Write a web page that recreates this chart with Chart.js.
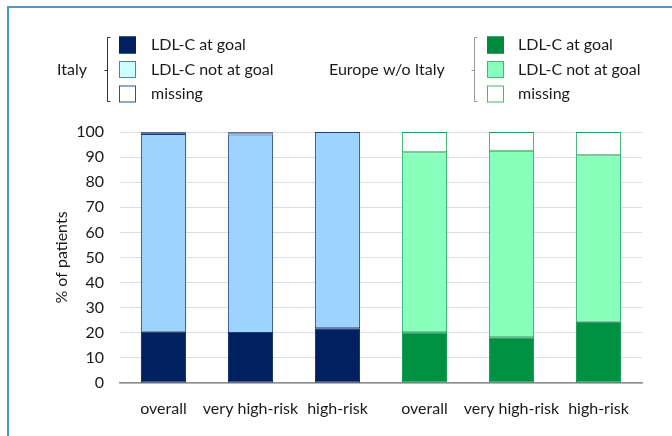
<!DOCTYPE html>
<html>
<head>
<meta charset="utf-8">
<script src="https://cdn.jsdelivr.net/npm/chart.js@4"></script>
<style>
  html, body { margin: 0; padding: 0; background: #fff; }
  #wrap { position: relative; width: 672px; height: 436px; }
</style>
</head>
<body>
<div id="wrap"><canvas id="chart" width="672" height="436"></canvas></div>
<script>
// ---------- data (% of patients) ----------
const categories = ['overall', 'very high-risk', 'high-risk', 'overall', 'very high-risk', 'high-risk'];

const italyAtGoal     = [20.4, 19.9, 21.8];
const italyNotAtGoal  = [78.8, 79.1, 78.2];
const italyMissing    = [0.8, 1.0, 0];

const europeAtGoal    = [20.2, 18.2, 24.4];
const europeNotAtGoal = [71.7, 74.3, 66.3];
const europeMissing   = [8.1, 7.5, 9.3];

const yTicks = [0, 10, 20, 30, 40, 50, 60, 70, 80, 90, 100];
const seriesNames = ['LDL-C at goal', 'LDL-C not at goal', 'missing'];

const FONT = 'Lato, "Open Sans", sans-serif';
const NONE3 = [null, null, null];

// Italy fills the first three categories, Europe the last three
const left  = (arr) => arr.concat(NONE3);
const right = (arr) => NONE3.concat(arr);

function bar(label, data, bg, border) {
  return {
    label: label, data: data, backgroundColor: bg, borderColor: border,
    borderWidth: 1, borderSkipped: false, stack: 'all',
    barPercentage: 0.52, categoryPercentage: 1,
  };
}

const datasets = [
  bar(seriesNames[0], left(italyAtGoal),     '#002060', '#002060'),
  bar(seriesNames[1], left(italyNotAtGoal),  '#9DD3FF', '#1F3D78'),
  bar(seriesNames[2], left(italyMissing),    '#7A8AAE', '#5A6E98'),
  bar(seriesNames[0], right(europeAtGoal),    '#009242', '#009242'),
  bar(seriesNames[1], right(europeNotAtGoal), '#88FFBA', '#1AA35A'),
  bar(seriesNames[2], right(europeMissing),   '#FFFFFF', '#1AA35A'),
];

// ---------- legend groups (bracketed, drawn on canvas) ----------
const legendGroups = [
  { title: 'Italy', titleX: 57, bracketX: 107, boxX: 119, textX: 151, bracketColor: '#333',
    swatches: [['#002060', '#002060'], ['#CCFFFF', '#4A7FC0'], ['#FFFFFF', '#2F4F8F']] },
  { title: 'Europe w/o Italy', titleX: 329, bracketX: 474, boxX: 487, textX: 518, bracketColor: '#999',
    swatches: [['#00883C', '#00883C'], ['#88FFBA', '#3DBB74'], ['#FFFFFF', '#3DBB74']] },
];
const legendRows = [45, 69.5, 94];

const decorPlugin = {
  id: 'decor',
  afterDraw(chart) {
    const ctx = chart.ctx;
    ctx.save();
    // outer frame (top and left edges)
    ctx.strokeStyle = '#4F97C8';
    ctx.lineWidth = 2;
    ctx.beginPath();
    ctx.moveTo(8, 436); ctx.lineTo(8, 7); ctx.lineTo(672, 7);
    ctx.stroke();

    ctx.font = '16px ' + FONT;
    ctx.textBaseline = 'middle';
    legendGroups.forEach((g) => {
      ctx.fillStyle = '#1a1a1a';
      ctx.textAlign = 'left';
      ctx.fillText(g.title, g.titleX, 70);

      // bracket
      ctx.strokeStyle = g.bracketColor;
      ctx.lineWidth = 1;
      const bx = g.bracketX + 0.5;
      ctx.beginPath();
      ctx.moveTo(bx + 3, 37.5); ctx.lineTo(bx, 37.5); ctx.lineTo(bx, 101.5); ctx.lineTo(bx + 3, 101.5);
      ctx.moveTo(bx - 3, 70.5); ctx.lineTo(bx, 70.5);
      ctx.stroke();

      g.swatches.forEach((s, i) => {
        const cy = legendRows[i];
        ctx.fillStyle = s[0];
        ctx.fillRect(g.boxX, cy - 8.5, 17, 17);
        ctx.strokeStyle = s[1];
        ctx.lineWidth = 1;
        ctx.strokeRect(g.boxX + 0.5, cy - 8, 16, 16);
        ctx.fillStyle = '#1a1a1a';
        ctx.fillText(seriesNames[i], g.textX, cy);
      });
    });
    ctx.restore();
  },
};

new Chart(document.getElementById('chart'), {
  type: 'bar',
  data: { labels: categories, datasets: datasets },
  plugins: [decorPlugin],
  options: {
    responsive: false,
    animation: false,
    events: [],
    layout: { padding: { top: 132, left: 0, right: 30, bottom: 0 } },
    plugins: { legend: { display: false }, tooltip: { enabled: false } },
    scales: {
      x: {
        stacked: true,
        grid: { display: false, drawTicks: false },
        border: { display: true, color: '#8C8C8C', width: 1.5 },
        ticks: { color: '#1a1a1a', font: { family: FONT, size: 16 }, padding: 16, maxRotation: 0, autoSkip: false },
        afterFit: (s) => { s.height = 53; },
      },
      y: {
        stacked: true,
        min: 0, max: 100,
        afterBuildTicks: (s) => { s.ticks = yTicks.map((v) => ({ value: v })); },
        grid: { color: '#DADDE4', lineWidth: 1, drawTicks: false },
        border: { display: false },
        ticks: { color: '#1a1a1a', font: { family: FONT, size: 16 }, padding: 16 },
        title: { display: true, text: '% of patients', color: '#1a1a1a',
                 font: { family: FONT, size: 16 }, padding: { top: 52, bottom: 0 } },
        afterFit: (s) => { s.width = 120; },
      },
    },
  },
});
</script>
</body>
</html>
